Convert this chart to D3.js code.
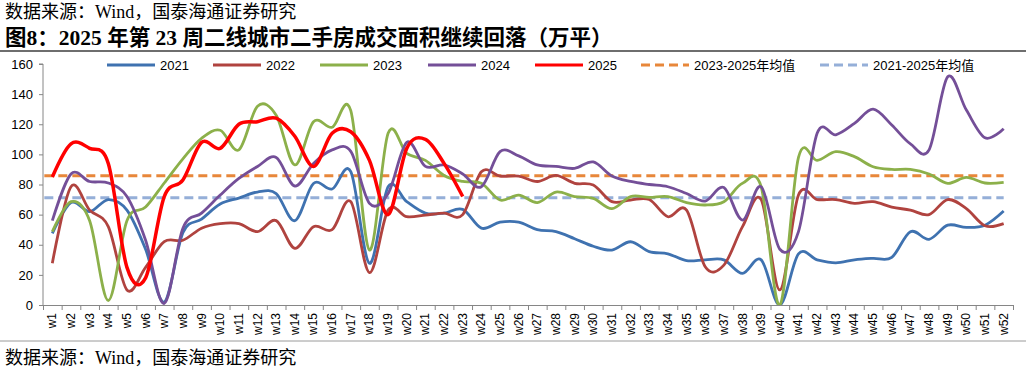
<!DOCTYPE html>
<html>
<head>
<meta charset="utf-8">
<script src="https://cdn.jsdelivr.net/npm/d3@7"></script>
<style>
    body { margin: 0; background: #fff; }
    #chart { width: 1032px; height: 375px; }
    .cn { font-family: "Liberation Serif", "Noto Sans CJK SC", serif; }
    .axis text { font-family: "Liberation Sans", Arial, sans-serif; font-size: 13px; fill: #000; }
    .axis path, .axis line { stroke: #868686; }
</style>
</head>
<body>
<div id="chart"></div>
<script>
// week labels
const weeks = d3.range(1, 53).map(i => "w" + i);
const yTicks = [0, 20, 40, 60, 80, 100, 120, 140, 160];

// weekly values, 万平
const s2021 = [47.5, 68, 62, 70, 63, 37, 2, 48, 57, 67, 71, 75, 74, 56, 80.7, 77, 88.5, 27.7, 78.5, 68.6,
    61, 61, 63.5, 51, 55, 55, 50, 48.7, 44, 39, 36.5, 42, 35.4, 34, 29.4, 30, 30, 21, 30, 0,
    34, 30, 28, 30, 31, 31.6, 48.7, 43.6, 53, 51.5, 53, 62.4];
const s2022 = [27.7, 78.5, 63, 52, 10, 25, 42, 43, 51, 54, 54, 48.7, 56, 37.6, 52, 50, 68.6, 21.5, 63, 58.6,
    59.7, 61, 60, 88.5, 85.6, 85.6, 82, 86, 80.8, 79.6, 68.6, 69.7, 70, 58.6, 63, 25.4, 26.5, 52, 70, 10,
    73, 70, 70, 67.5, 68.6, 65, 63, 60, 70, 64, 52.6, 54];
const s2023 = [48.7, 68.6, 56, 3, 56, 65, 81, 97, 110.6, 116, 103, 132, 126, 93, 121.7, 118, 129, 36.5, 114, 100.7,
    96, 86, 82, 80.8, 69.7, 73, 68, 75, 72, 70.8, 64, 72, 71.5, 72, 68, 66.4, 68.6, 80.8, 78.5, 0,
    98, 96, 101.8, 98.5, 91.8, 90, 90, 87, 80.8, 84.7, 81, 81.4];
const s2024 = [56, 87, 82, 81, 72, 43, 1, 51, 61, 73, 84, 92, 98, 79, 94, 103, 102, 67.5, 74, 108,
    92, 93, 87, 78.5, 101.8, 99, 93, 92, 90.7, 95, 85.6, 82, 80, 78.5, 74, 69, 78, 56.4, 78.5, 37,
    48.7, 114, 113, 120.6, 130, 119.5, 107, 103, 151.5, 129.4, 111, 117];
const s2025 = [85, 107, 104, 94, 25, 18, 72, 83, 108, 104, 120, 121.7, 124, 112, 92, 114, 115, 96, 60, 104,
    110, 94, 72];

// multi-year averages
const avg2325 = 85.8;
const avg2125 = 71.2;

const seriesNames = ["2021", "2022", "2023", "2024", "2025"];
const seriesValues = [s2021, s2022, s2023, s2024, s2025];
const seriesColors = ["#3f72b0", "#b0433f", "#8cb04a", "#744f98", "#ff0000"];
const avgNames = ["2023-2025年均值", "2021-2025年均值"];
const avgValues = [avg2325, avg2125];
const avgColors = ["#e8873a", "#95afd8"];

class WeeklyAreaChart {

    constructor(parentElement) {
        this.parentElement = parentElement;
        this.initVis();
    }

    initVis() {
        let vis = this;

        vis.svg = d3.select("#" + vis.parentElement)
            .append("svg")
            .attr("width", 1032)
            .attr("height", 375);

        // header / footer
        vis.svg.append("text").attr("class", "cn")
            .attr("x", 5).attr("y", 18)
            .style("font-size", "18px")
            .text("数据来源：Wind，国泰海通证券研究");
        vis.svg.append("text").attr("class", "cn")
            .attr("x", 5).attr("y", 45)
            .style("font-size", "21.5px").style("font-weight", "bold")
            .text("图8：2025 年第 23 周二线城市二手房成交面积继续回落（万平）");
        vis.svg.append("line")
            .attr("x1", 0).attr("x2", 1026).attr("y1", 51).attr("y2", 51)
            .attr("stroke", "#6e6e6e").attr("stroke-width", 2);
        vis.svg.append("line")
            .attr("x1", 0).attr("x2", 1026).attr("y1", 341).attr("y2", 341)
            .attr("stroke", "#9a9a9a").attr("stroke-width", 1);
        vis.svg.append("text").attr("class", "cn")
            .attr("x", 5).attr("y", 364)
            .style("font-size", "18px")
            .text("数据来源：Wind，国泰海通证券研究");

        vis.left = 43;
        vis.right = 1013;
        vis.top = 64;
        vis.bottom = 305;

        vis.x = d3.scaleBand().domain(weeks).range([vis.left, vis.right]);
        vis.xEdge = d3.scaleLinear().domain([0, weeks.length]).range([vis.left, vis.right]);
        vis.y = d3.scaleLinear().domain([0, 160]).range([vis.bottom, vis.top]);

        vis.svg.append("clipPath").attr("id", "plotClip")
            .append("rect")
            .attr("x", vis.left).attr("y", vis.top - 4)
            .attr("width", vis.right - vis.left).attr("height", vis.bottom - vis.top + 4);

        vis.updateVis();
    }

    updateVis() {
        this.createAxis();
        this.createLines();
        this.createLegend();
    }

    createAxis() {
        let vis = this;

        let yAxis = d3.axisLeft(vis.y).tickValues(yTicks).tickSize(4).tickPadding(6);
        vis.svg.append("g")
            .attr("class", "axis")
            .attr("transform", `translate(${vis.left},0)`)
            .call(yAxis)
            .call(g => g.select(".domain").attr("d", `M-4,${vis.top}H0V${vis.bottom}`));

        let xTicks = d3.axisBottom(vis.xEdge)
            .tickValues(d3.range(weeks.length + 1))
            .tickFormat("")
            .tickSize(5)
            .tickSizeOuter(0);
        vis.svg.append("g")
            .attr("class", "axis")
            .attr("transform", `translate(0,${vis.bottom})`)
            .call(xTicks);

        let xLabels = d3.axisBottom(vis.x).tickSize(0).tickPadding(0);
        vis.svg.append("g")
            .attr("class", "axis")
            .attr("transform", `translate(0,${vis.bottom})`)
            .call(xLabels)
            .call(g => g.select(".domain").remove())
            .selectAll("text")
            .style("font-size", "12px")
            .attr("text-anchor", "end")
            .attr("dy", null)
            .attr("y", 0)
            .attr("transform", "translate(4,8) rotate(-90)");
    }

    createLines() {
        let vis = this;
        let cx = d => vis.x(d) + vis.x.bandwidth() / 2;

        let plot = vis.svg.append("g").attr("clip-path", "url(#plotClip)");

        // average dashed lines
        avgValues.forEach((v, i) => {
            plot.append("line")
                .attr("x1", cx(weeks[0]) - 8)
                .attr("x2", cx(weeks[weeks.length - 1]))
                .attr("y1", vis.y(v)).attr("y2", vis.y(v))
                .attr("stroke", avgColors[i])
                .attr("stroke-width", 3)
                .attr("stroke-dasharray", "9,5");
        });

        const line = d3.line()
            .x((d, i) => cx(weeks[i]))
            .y(d => vis.y(d))
            .curve(d3.curveCardinal.tension(0));

        seriesValues.forEach((vals, i) => {
            plot.append("path")
                .datum(vals)
                .attr("fill", "none")
                .attr("stroke", seriesColors[i])
                .attr("stroke-width", i === 4 ? 3.5 : 2.8)
                .attr("stroke-linejoin", "round")
                .attr("d", line);
        });
    }

    createLegend() {
        let vis = this;
        let ly = 65;
        let items = seriesNames.map((n, i) => ({name: n, color: seriesColors[i], dash: null}))
            .concat(avgNames.map((n, i) => ({name: n, color: avgColors[i], dash: "9,5"})));
        let xs = [107, 213, 320, 428, 535, 641, 820];

        let g = vis.svg.append("g").attr("class", "legend");
        items.forEach((d, i) => {
            g.append("line")
                .attr("x1", xs[i]).attr("x2", xs[i] + 48)
                .attr("y1", ly).attr("y2", ly)
                .attr("stroke", d.color)
                .attr("stroke-width", 3)
                .attr("stroke-dasharray", d.dash);
            g.append("text")
                .attr("x", xs[i] + 53).attr("y", ly + 5)
                .style("font-family", "'Liberation Sans', 'Noto Sans CJK SC', sans-serif")
                .style("font-size", "13px")
                .text(d.name);
        });
    }
}

new WeeklyAreaChart("chart");
</script>
</body>
</html>
